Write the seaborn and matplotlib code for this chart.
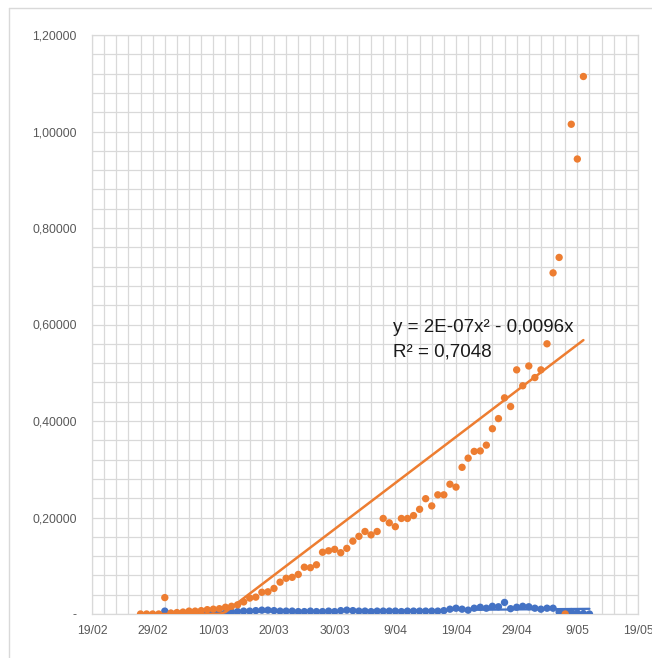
import numpy as np
import pandas as pd
import matplotlib
matplotlib.use("Agg")
import matplotlib.pyplot as plt
import matplotlib.dates as mdates
from matplotlib.lines import Line2D
import seaborn as sns

# ---------------- data ----------------
orange_start = "2020-02-27"
orange_values = [
    0.000, 0.000, 0.000, 0.000, 0.034, 0.002, 0.003, 0.004, 0.006, 0.006,
    0.007, 0.009, 0.010, 0.011, 0.014, 0.016, 0.019, 0.025, 0.033, 0.035,
    0.045, 0.046, 0.053, 0.066, 0.074, 0.076, 0.082, 0.097, 0.096, 0.102,
    0.128, 0.131, 0.134, 0.127, 0.136, 0.151, 0.161, 0.171, 0.164, 0.171,
    0.198, 0.189, 0.181, 0.198, 0.198, 0.204, 0.217, 0.239, 0.224, 0.247,
    0.247, 0.269, 0.263, 0.304, 0.323, 0.337, 0.338, 0.350, 0.384, 0.405,
    0.448, 0.430, 0.506, 0.473, 0.514, 0.490, 0.506, 0.560, 0.707, 0.739,
    0.000, 1.015, 0.943, 1.114,
]
blue_start = "2020-03-02"
blue_values = [
    0.006, 0.001, 0.001, 0.001, 0.002, 0.001, 0.002, 0.002, 0.003, 0.003,
    0.002, 0.004, 0.005, 0.006, 0.006, 0.007, 0.008, 0.008, 0.007, 0.006,
    0.006, 0.006, 0.005, 0.005, 0.006, 0.005, 0.005, 0.006, 0.005, 0.007,
    0.008, 0.007, 0.006, 0.006, 0.005, 0.006, 0.006, 0.006, 0.006, 0.005,
    0.006, 0.006, 0.006, 0.006, 0.006, 0.006, 0.007, 0.010, 0.012, 0.010,
    0.008, 0.012, 0.014, 0.012, 0.016, 0.015, 0.024, 0.011, 0.014, 0.016,
    0.015, 0.012, 0.010, 0.012, 0.012, 0.004, 0.004, 0.005, 0.002, 0.001,
    0.000,
]
axis_start = "2020-02-19"
axis_end = "2020-05-19"
y_ticks = [0.0, 0.2, 0.4, 0.6, 0.8, 1.0, 1.2]
trend_label = ["y = 2E-07x\u00b2 - 0,0096x", "R\u00b2 = 0,7048"]

ORANGE = "#ED7D31"
BLUE = "#4472C4"
GRID = "#D9D9D9"
TICK = "#595959"

orange_dates = pd.date_range(orange_start, periods=len(orange_values), freq="D")
blue_dates = pd.date_range(blue_start, periods=len(blue_values), freq="D")
df_o = pd.DataFrame({"date": orange_dates, "value": orange_values})
df_b = pd.DataFrame({"date": blue_dates, "value": blue_values})

sns.set_style("white")
plt.rcParams["font.family"] = ["Liberation Sans", "DejaVu Sans"]

fig = plt.figure(figsize=(6.52, 6.58), dpi=100)
ax = fig.add_axes([92 / 652, 44 / 658, 546 / 652, 579 / 658])

# grid
x0 = pd.Timestamp(axis_start)
x1 = pd.Timestamp(axis_end)
major_x = pd.date_range(x0, x1, freq="10D")
minor_x = pd.date_range(x0, x1, freq="2D")
ax.set_xticks(major_x)
ax.set_xticks(minor_x, minor=True)
ax.set_xticklabels([f"{d.day}/{d.month:02d}" for d in major_x])
ax.set_yticks(y_ticks)
ax.set_yticks(np.round(np.arange(0, 1.2001, 0.04), 2), minor=True)
ax.set_yticklabels(["-" if v == 0 else f"{v:.5f}".replace(".", ",") for v in y_ticks])
ax.grid(True, which="both", color=GRID, linewidth=0.9)
ax.set_axisbelow(True)
ax.tick_params(which="both", length=0)
ax.tick_params(axis="x", pad=8, labelsize=8.8, labelcolor=TICK)
ax.tick_params(axis="y", pad=11, labelsize=8.8, labelcolor=TICK)
for s in ax.spines.values():
    s.set_color(GRID)
    s.set_linewidth(0.9)

# blue series + trend
sns.scatterplot(data=df_b, x="date", y="value", color=BLUE, s=28, edgecolor="none", ax=ax, zorder=3)
bx = mdates.date2num(df_b["date"])
bc = np.polyfit(bx, df_b["value"], 1)
sns.lineplot(x=df_b["date"], y=np.clip(np.polyval(bc, bx), 0, None), color=BLUE, linewidth=1.6, ax=ax, zorder=3)

# orange series + trend
sns.scatterplot(data=df_o, x="date", y="value", color=ORANGE, s=28, edgecolor="none", ax=ax, zorder=4)
ox = mdates.date2num(df_o["date"])
oc = np.polyfit(ox, df_o["value"], 1)
sns.lineplot(x=df_o["date"], y=np.clip(np.polyval(oc, ox), 0, None), color=ORANGE, linewidth=1.8, ax=ax, zorder=4)

ax.set_xlim(x0, x1)
ax.set_ylim(0, 1.2)
ax.set_xlabel("")
ax.set_ylabel("")

fig.text(393 / 652, 1 - 327 / 658, trend_label[0], fontsize=13.5, color="#1a1a1a", va="center", ha="left")
fig.text(393 / 652, 1 - 352 / 658, trend_label[1], fontsize=13.5, color="#1a1a1a", va="center", ha="left")

# chart border (top & left visible)
fig.add_artist(Line2D([9 / 652, 9 / 652], [0, 1 - 8 / 658], color=GRID, linewidth=1, transform=fig.transFigure))
fig.add_artist(Line2D([9 / 652, 1], [1 - 8 / 658, 1 - 8 / 658], color=GRID, linewidth=1, transform=fig.transFigure))

fig.savefig("out.png", dpi=100)
